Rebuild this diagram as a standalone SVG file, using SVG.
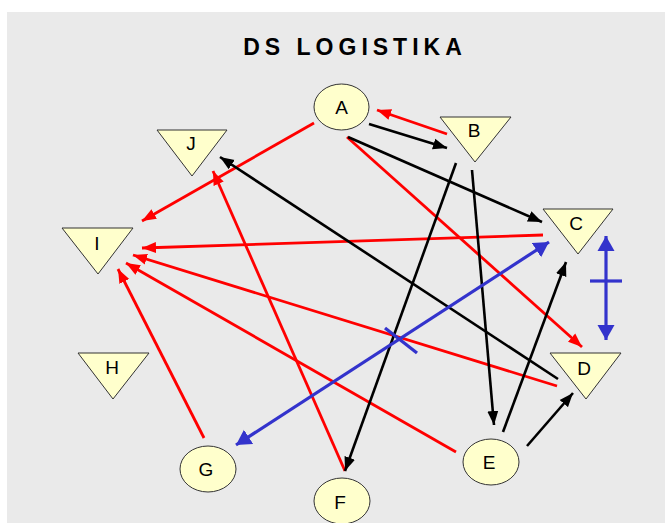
<svg xmlns="http://www.w3.org/2000/svg" width="665" height="523" viewBox="0 0 665 523">
  <style>
    .bg { fill: #eaeaea; }
    .title { font-family: "Liberation Sans", Arial, sans-serif; font-size: 23px; font-weight: bold; letter-spacing: 5px; fill: #000; text-anchor: middle; }
    .node { fill: #ffffcc; stroke: #333; stroke-width: 1; }
    .label { font-family: "Liberation Sans", Arial, sans-serif; font-size: 19px; fill: #000; text-anchor: middle; dominant-baseline: central; }
    .red { stroke: #ff0000; stroke-width: 2.8; fill: none; marker-end: url(#arrRed); }
    .black { stroke: #000; stroke-width: 2.6; fill: none; marker-end: url(#arrBlack); }
    .blue { stroke: #3333cc; stroke-width: 3.2; fill: none; }
    .both { marker-start: url(#arrBlue); marker-end: url(#arrBlue); }
  </style>
  <defs>
    <marker id="arrRed" markerUnits="userSpaceOnUse" markerWidth="15" markerHeight="12" refX="14" refY="6" orient="auto">
      <path d="M0,0.5 L14,6 L0,11.5 z" fill="#ff0000"/>
    </marker>
    <marker id="arrBlack" markerUnits="userSpaceOnUse" markerWidth="15" markerHeight="12" refX="14" refY="6" orient="auto">
      <path d="M0,0.5 L14,6 L0,11.5 z" fill="#000"/>
    </marker>
    <marker id="arrBlue" markerUnits="userSpaceOnUse" markerWidth="16" markerHeight="18" refX="15" refY="9" orient="auto-start-reverse">
      <path d="M0,0.5 L15,9 L0,17.5 z" fill="#3333cc"/>
    </marker>
  </defs>

  <rect class="bg" x="7" y="12" width="658" height="511"/>
  <text class="title" x="355" y="55">DS LOGISTIKA</text>

  <g id="connectors">
    <!-- red flows -->
    <path class="red" d="M447,134 L377,110"/>
    <path class="red" d="M314,123 L142,221"/>
    <path class="red" d="M347,137 L582,347"/>
    <path class="red" d="M543,235 L142,248"/>
    <path class="red" d="M557,386 L133,255"/>
    <path class="red" d="M456,452 L126,263"/>
    <path class="red" d="M204,438 L118,269"/>
    <path class="red" d="M345,471 L213,171"/>
    <!-- black flows -->
    <path class="black" d="M369,124 L447,148"/>
    <path class="black" d="M348,137 L542,222"/>
    <path class="black" d="M456,163 L345,471"/>
    <path class="black" d="M472,170 L494,425"/>
    <path class="black" d="M503,432 L566,262"/>
    <path class="black" d="M527,446 L573,393"/>
    <path class="black" d="M558,379 L220,157"/>
    <!-- blue two-way links with cross ticks -->
    <path class="blue both" d="M549,242 L236,445"/>
    <path class="blue" d="M385,328 L417,353"/>
    <path class="blue both" d="M606,236 L606,340"/>
    <path class="blue" d="M590,281 L622,281"/>
  </g>

  <g id="node-A">
    <ellipse class="node" cx="341.5" cy="107" rx="27.5" ry="23"/>
    <text class="label" x="341.5" y="107">A</text>
  </g>
  <g id="node-B">
    <polygon class="node" points="440,117 511,117 475,162"/>
    <text class="label" x="474" y="130">B</text>
  </g>
  <g id="node-C">
    <polygon class="node" points="543,209 613,209 578,254"/>
    <text class="label" x="576" y="223">C</text>
  </g>
  <g id="node-D">
    <polygon class="node" points="550,353 621,353 586,399"/>
    <text class="label" x="584" y="368">D</text>
  </g>
  <g id="node-E">
    <ellipse class="node" cx="491" cy="462" rx="28" ry="23"/>
    <text class="label" x="489" y="462">E</text>
  </g>
  <g id="node-F">
    <ellipse class="node" cx="342" cy="501" rx="28" ry="23"/>
    <text class="label" x="340" y="502">F</text>
  </g>
  <g id="node-G">
    <ellipse class="node" cx="208" cy="469" rx="28" ry="23"/>
    <text class="label" x="206" y="469">G</text>
  </g>
  <g id="node-H">
    <polygon class="node" points="78,353 149,353 113,399"/>
    <text class="label" x="112" y="367">H</text>
  </g>
  <g id="node-I">
    <polygon class="node" points="62,228 133,228 98,274"/>
    <text class="label" x="97" y="243">I</text>
  </g>
  <g id="node-J">
    <polygon class="node" points="157,130 227,130 192,176"/>
    <text class="label" x="191" y="143">J</text>
  </g>
</svg>
